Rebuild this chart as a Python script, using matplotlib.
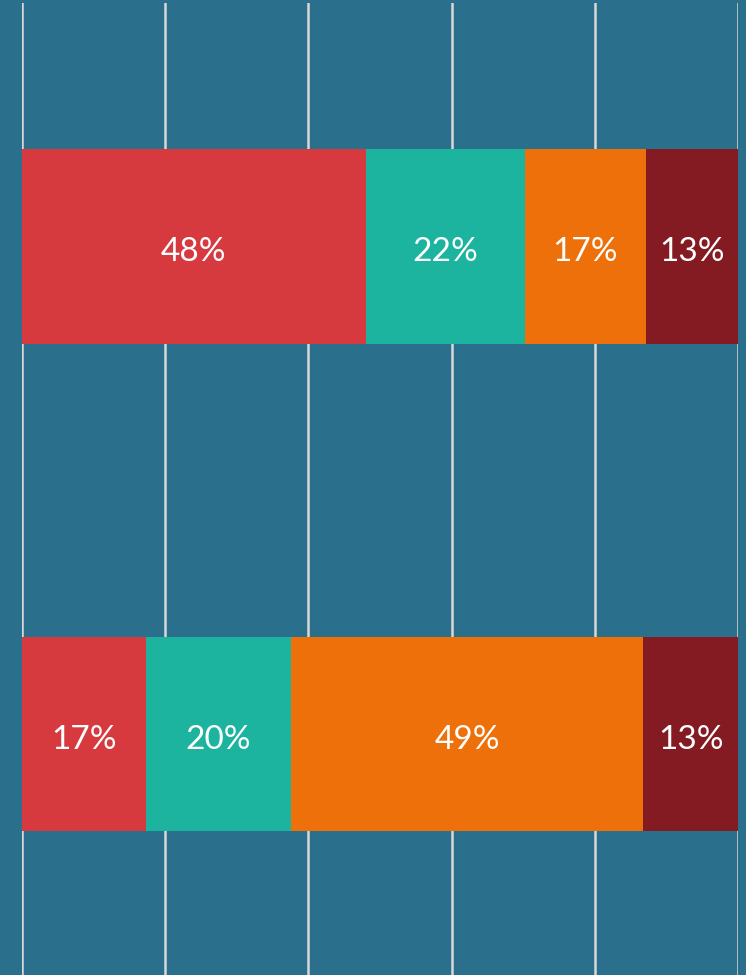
import matplotlib.pyplot as plt

# two stacked bars, shares in percent
rows = ["A", "B"]
seg1 = [48.0, 17.3]
seg2 = [22.2, 20.3]
seg3 = [17.0, 49.2]
seg4 = [12.8, 13.3]
labels = [["48%", "22%", "17%", "13%"],
          ["17%", "20%", "49%", "13%"]]
colors = ["#d63a3f", "#1cb39f", "#ed700a", "#851b22"]
bg = "#2a6f8c"

plt.rcParams['font.family'] = ['Lato', 'DejaVu Sans']

fig = plt.figure(figsize=(7.46, 9.75), dpi=100)
fig.patch.set_facecolor(bg)
ax = fig.add_axes([22/746, 0, 716/746, 972/975])
ax.set_facecolor(bg)

series = [seg1, seg2, seg3, seg4]
left = [0, 0]
for i, s in enumerate(series):
	bars = ax.barh([0, 1], s, left=left, height=0.398, color=colors[i], zorder=2)
	for j in range(len(rows)):
		ax.text(left[j] + s[j] / 2, j + 0.012, labels[j][i], ha='center', va='center',
			color='white', fontsize=24, zorder=3)
	left = [left[k] + s[k] for k in range(len(left))]

ax.set_xlim(0, 100)
ax.set_ylim(1.4944, -0.4995)
ax.set_xticks([0, 20, 40, 60, 80, 100])
ax.grid(axis='x', color='#d8d8d8', linewidth=1.8, zorder=1)
ax.tick_params(left=False, bottom=False, labelleft=False, labelbottom=False)
for sp in ax.spines.values():
	sp.set_visible(False)

fig.savefig("out.png", dpi=100, facecolor=bg)
